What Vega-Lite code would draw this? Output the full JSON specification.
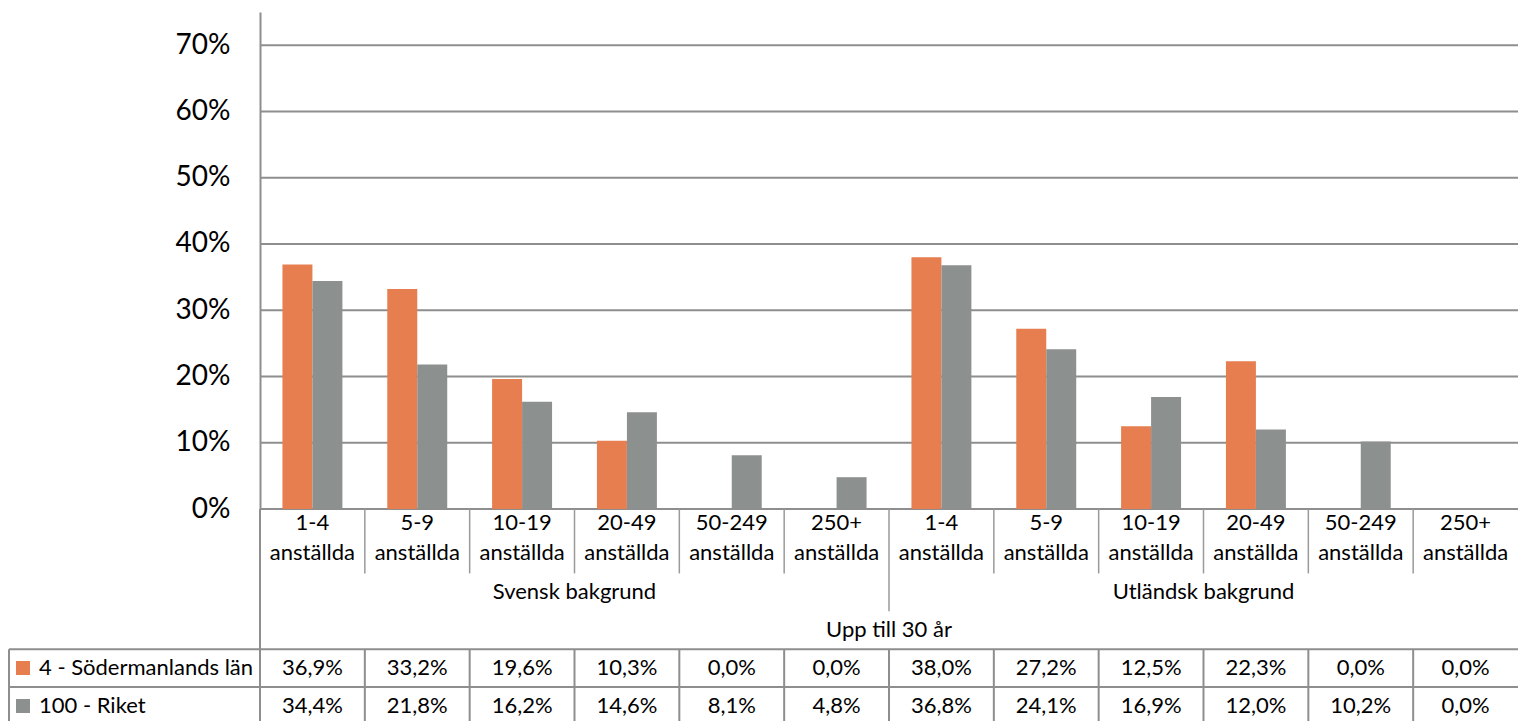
{
  "$schema": "https://vega.github.io/schema/vega-lite/v6.json",
  "width": 1509,
  "height": 709,
  "autosize": {"type": "none"},
  "padding": {"left": 9, "top": 12, "right": 3, "bottom": 0},
  "background": "white",
  "config": {
    "font": "Lato",
    "view": {"stroke": null},
    "locale": {"number": {"decimal": ",", "thousands": "\u00a0", "grouping": [3], "currency": ["", " kr"]}},
    "text": {"font": "Lato", "fontSize": 22, "color": "#000000"}
  },
  "data": {"values": [
    {"key": "S1", "grp": "Svensk bakgrund", "age": "Upp till 30 år", "label": "1-4\nanställda", "series": "4 - Södermanlands län", "value": 0.369},
    {"key": "S1", "grp": "Svensk bakgrund", "age": "Upp till 30 år", "label": "1-4\nanställda", "series": "100 - Riket", "value": 0.344},
    {"key": "S2", "grp": "Svensk bakgrund", "age": "Upp till 30 år", "label": "5-9\nanställda", "series": "4 - Södermanlands län", "value": 0.332},
    {"key": "S2", "grp": "Svensk bakgrund", "age": "Upp till 30 år", "label": "5-9\nanställda", "series": "100 - Riket", "value": 0.218},
    {"key": "S3", "grp": "Svensk bakgrund", "age": "Upp till 30 år", "label": "10-19\nanställda", "series": "4 - Södermanlands län", "value": 0.196},
    {"key": "S3", "grp": "Svensk bakgrund", "age": "Upp till 30 år", "label": "10-19\nanställda", "series": "100 - Riket", "value": 0.162},
    {"key": "S4", "grp": "Svensk bakgrund", "age": "Upp till 30 år", "label": "20-49\nanställda", "series": "4 - Södermanlands län", "value": 0.103},
    {"key": "S4", "grp": "Svensk bakgrund", "age": "Upp till 30 år", "label": "20-49\nanställda", "series": "100 - Riket", "value": 0.146},
    {"key": "S5", "grp": "Svensk bakgrund", "age": "Upp till 30 år", "label": "50-249\nanställda", "series": "4 - Södermanlands län", "value": 0.0},
    {"key": "S5", "grp": "Svensk bakgrund", "age": "Upp till 30 år", "label": "50-249\nanställda", "series": "100 - Riket", "value": 0.081},
    {"key": "S6", "grp": "Svensk bakgrund", "age": "Upp till 30 år", "label": "250+\nanställda", "series": "4 - Södermanlands län", "value": 0.0},
    {"key": "S6", "grp": "Svensk bakgrund", "age": "Upp till 30 år", "label": "250+\nanställda", "series": "100 - Riket", "value": 0.048},
    {"key": "U1", "grp": "Utländsk bakgrund", "age": "Upp till 30 år", "label": "1-4\nanställda", "series": "4 - Södermanlands län", "value": 0.380},
    {"key": "U1", "grp": "Utländsk bakgrund", "age": "Upp till 30 år", "label": "1-4\nanställda", "series": "100 - Riket", "value": 0.368},
    {"key": "U2", "grp": "Utländsk bakgrund", "age": "Upp till 30 år", "label": "5-9\nanställda", "series": "4 - Södermanlands län", "value": 0.272},
    {"key": "U2", "grp": "Utländsk bakgrund", "age": "Upp till 30 år", "label": "5-9\nanställda", "series": "100 - Riket", "value": 0.241},
    {"key": "U3", "grp": "Utländsk bakgrund", "age": "Upp till 30 år", "label": "10-19\nanställda", "series": "4 - Södermanlands län", "value": 0.125},
    {"key": "U3", "grp": "Utländsk bakgrund", "age": "Upp till 30 år", "label": "10-19\nanställda", "series": "100 - Riket", "value": 0.169},
    {"key": "U4", "grp": "Utländsk bakgrund", "age": "Upp till 30 år", "label": "20-49\nanställda", "series": "4 - Södermanlands län", "value": 0.223},
    {"key": "U4", "grp": "Utländsk bakgrund", "age": "Upp till 30 år", "label": "20-49\nanställda", "series": "100 - Riket", "value": 0.120},
    {"key": "U5", "grp": "Utländsk bakgrund", "age": "Upp till 30 år", "label": "50-249\nanställda", "series": "4 - Södermanlands län", "value": 0.0},
    {"key": "U5", "grp": "Utländsk bakgrund", "age": "Upp till 30 år", "label": "50-249\nanställda", "series": "100 - Riket", "value": 0.102},
    {"key": "U6", "grp": "Utländsk bakgrund", "age": "Upp till 30 år", "label": "250+\nanställda", "series": "4 - Södermanlands län", "value": 0.0},
    {"key": "U6", "grp": "Utländsk bakgrund", "age": "Upp till 30 år", "label": "250+\nanställda", "series": "100 - Riket", "value": 0.0}
  ]},
  "resolve": {"scale": {"x": "independent", "y": "independent"}},
  "layer": [
    {
      "data": {"values": [{"t": 0}, {"t": 0.1}, {"t": 0.2}, {"t": 0.3}, {"t": 0.4}, {"t": 0.5}, {"t": 0.6}, {"t": 0.7}]},
      "mark": {"type": "rule", "stroke": "#8E8E8E", "strokeWidth": 2},
      "encoding": {
        "y": {"field": "t", "type": "quantitative", "axis": null, "scale": {"domain": [0, 0.75], "range": [497, 0], "nice": false, "zero": false}},
        "x": {"datum": 0, "type": "quantitative", "axis": null, "scale": {"domain": [0, 12], "range": [251, 1509], "nice": false, "zero": false}},
        "x2": {"datum": 12}
      }
    },
    {
      "mark": {"type": "bar"},
      "encoding": {
        "x": {"field": "key", "type": "nominal", "axis": null, "scale": {"domain": ["S1","S2","S3","S4","S5","S6","U1","U2","U3","U4","U5","U6"], "range": [251, 1509], "paddingInner": 0.428, "paddingOuter": 0.214}},
        "xOffset": {"field": "series", "type": "nominal", "scale": {"domain": ["4 - Södermanlands län", "100 - Riket"], "paddingInner": 0, "paddingOuter": 0}},
        "y": {"field": "value", "type": "quantitative", "scale": {"domain": [0, 0.75], "range": [497, 0], "nice": false, "zero": false},
          "axis": {"values": [0, 0.1, 0.2, 0.3, 0.4, 0.5, 0.6, 0.7], "format": ".0%", "offset": -251, "grid": false, "ticks": false, "tickSize": 0, "labelPadding": 30, "labelFontSize": 28, "labelFont": "Lato", "labelColor": "#000000", "domainColor": "#8E8E8E", "domainWidth": 2, "title": null}},
        "color": {"field": "series", "type": "nominal",
          "scale": {"domain": ["4 - Södermanlands län", "100 - Riket"], "range": ["#E67E4F", "#8C918F"]},
          "legend": {"orient": "none", "legendX": 3, "legendY": 645, "title": null, "symbolType": "square", "symbolSize": 196, "symbolStrokeWidth": 0, "symbolOpacity": 1, "labelFontSize": 22, "labelFont": "Lato", "labelColor": "#000000", "labelOffset": 5, "rowPadding": 16, "padding": 0, "labelLimit": 300}}
      }
    },
    {
      "transform": [{"filter": "datum.series == '100 - Riket' && datum.key != 'S1' && datum.key != 'U1'"}],
      "mark": {"type": "rule", "stroke": "#9A9A9A", "strokeWidth": 1.5},
      "encoding": {
        "x": {"field": "key", "type": "nominal", "bandPosition": 0, "axis": null, "scale": {"domain": ["S1","S2","S3","S4","S5","S6","U1","U2","U3","U4","U5","U6"], "range": [251, 1509], "paddingInner": 0, "paddingOuter": 0}},
        "y": {"datum": 0, "type": "quantitative", "axis": null, "scale": {"domain": [0, 5.7], "range": [497, 713], "nice": false, "zero": false}},
        "y2": {"datum": 1.7}
      }
    },
    {
      "transform": [{"filter": "datum.series == '100 - Riket' && datum.key == 'U1'"}],
      "mark": {"type": "rule", "stroke": "#9A9A9A", "strokeWidth": 1.5},
      "encoding": {
        "x": {"field": "key", "type": "nominal", "bandPosition": 0, "axis": null, "scale": {"domain": ["S1","S2","S3","S4","S5","S6","U1","U2","U3","U4","U5","U6"], "range": [251, 1509], "paddingInner": 0, "paddingOuter": 0}},
        "y": {"datum": 0, "type": "quantitative", "axis": null, "scale": {"domain": [0, 5.7], "range": [497, 713], "nice": false, "zero": false}},
        "y2": {"datum": 2.7}
      }
    },
    {
      "transform": [{"filter": "datum.series == '100 - Riket' && datum.key == 'S1'"}],
      "mark": {"type": "rule", "stroke": "#8E8E8E", "strokeWidth": 2},
      "encoding": {
        "x": {"field": "key", "type": "nominal", "bandPosition": 0, "axis": null, "scale": {"domain": ["S1","S2","S3","S4","S5","S6","U1","U2","U3","U4","U5","U6"], "range": [251, 1509], "paddingInner": 0, "paddingOuter": 0}},
        "y": {"datum": 0, "type": "quantitative", "axis": null, "scale": {"domain": [0, 5.7], "range": [497, 713], "nice": false, "zero": false}},
        "y2": {"datum": 5.7}
      }
    },
    {
      "transform": [{"filter": "datum.series == '100 - Riket' && datum.key != 'S1'"}],
      "mark": {"type": "rule", "stroke": "#8E8E8E", "strokeWidth": 2},
      "encoding": {
        "x": {"field": "key", "type": "nominal", "bandPosition": 0, "axis": null, "scale": {"domain": ["S1","S2","S3","S4","S5","S6","U1","U2","U3","U4","U5","U6"], "range": [251, 1509], "paddingInner": 0, "paddingOuter": 0}},
        "y": {"datum": 3.7, "type": "quantitative", "axis": null, "scale": {"domain": [0, 5.7], "range": [497, 713], "nice": false, "zero": false}},
        "y2": {"datum": 5.7}
      }
    },
    {
      "transform": [{"filter": "datum.series == '100 - Riket' && datum.key == 'S1'"}],
      "mark": {"type": "rule", "stroke": "#8E8E8E", "strokeWidth": 2},
      "encoding": {
        "x": {"datum": -2.3944, "type": "quantitative", "axis": null, "scale": {"domain": [0, 12], "range": [251, 1509], "nice": false, "zero": false}},
        "y": {"datum": 3.7, "type": "quantitative", "axis": null, "scale": {"domain": [0, 5.7], "range": [497, 713], "nice": false, "zero": false}},
        "y2": {"datum": 5.7}
      }
    },
    {
      "transform": [{"filter": "datum.series == '100 - Riket' && datum.key == 'S1'"}],
      "mark": {"type": "rule", "stroke": "#8E8E8E", "strokeWidth": 2},
      "encoding": {
        "y": {"datum": 3.7, "type": "quantitative", "axis": null, "scale": {"domain": [0, 5.7], "range": [497, 713], "nice": false, "zero": false}}
      }
    },
    {
      "transform": [{"filter": "datum.series == '100 - Riket' && datum.key == 'S1'"}],
      "mark": {"type": "rule", "stroke": "#8E8E8E", "strokeWidth": 2},
      "encoding": {
        "y": {"datum": 4.7, "type": "quantitative", "axis": null, "scale": {"domain": [0, 5.7], "range": [497, 713], "nice": false, "zero": false}}
      }
    },
    {
      "transform": [{"filter": "datum.series == '100 - Riket'"}],
      "mark": {"type": "text", "lineBreak": "\n", "lineHeight": 29.5, "baseline": "middle", "align": "center"},
      "encoding": {
        "x": {"field": "key", "type": "nominal", "axis": null, "scale": {"domain": ["S1","S2","S3","S4","S5","S6","U1","U2","U3","U4","U5","U6"], "range": [251, 1509], "paddingInner": 0, "paddingOuter": 0}},
        "y": {"datum": 0.375, "type": "quantitative", "axis": null, "scale": {"domain": [0, 5.7], "range": [497, 713], "nice": false, "zero": false}},
        "text": {"field": "label"}
      }
    },
    {
      "transform": [{"filter": "datum.series == '100 - Riket' && datum.key == 'S1'"}],
      "mark": {"type": "text", "baseline": "middle", "align": "center"},
      "encoding": {
        "x": {"datum": 3, "type": "quantitative", "axis": null, "scale": {"domain": [0, 12], "range": [251, 1509], "nice": false, "zero": false}},
        "y": {"datum": 2.19, "type": "quantitative", "axis": null, "scale": {"domain": [0, 5.7], "range": [497, 713], "nice": false, "zero": false}},
        "text": {"field": "grp"}
      }
    },
    {
      "transform": [{"filter": "datum.series == '100 - Riket' && datum.key == 'U1'"}],
      "mark": {"type": "text", "baseline": "middle", "align": "center"},
      "encoding": {
        "x": {"datum": 9, "type": "quantitative", "axis": null, "scale": {"domain": [0, 12], "range": [251, 1509], "nice": false, "zero": false}},
        "y": {"datum": 2.19, "type": "quantitative", "axis": null, "scale": {"domain": [0, 5.7], "range": [497, 713], "nice": false, "zero": false}},
        "text": {"field": "grp"}
      }
    },
    {
      "transform": [{"filter": "datum.series == '100 - Riket' && datum.key == 'S1'"}],
      "mark": {"type": "text", "baseline": "middle", "align": "center"},
      "encoding": {
        "x": {"datum": 6, "type": "quantitative", "axis": null, "scale": {"domain": [0, 12], "range": [251, 1509], "nice": false, "zero": false}},
        "y": {"datum": 3.19, "type": "quantitative", "axis": null, "scale": {"domain": [0, 5.7], "range": [497, 713], "nice": false, "zero": false}},
        "text": {"field": "age"}
      }
    },
    {
      "transform": [{"filter": "datum.series == '4 - Södermanlands län'"}],
      "mark": {"type": "text", "baseline": "middle", "align": "center"},
      "encoding": {
        "x": {"field": "key", "type": "nominal", "axis": null, "scale": {"domain": ["S1","S2","S3","S4","S5","S6","U1","U2","U3","U4","U5","U6"], "range": [251, 1509], "paddingInner": 0, "paddingOuter": 0}},
        "y": {"datum": 4.2, "type": "quantitative", "axis": null, "scale": {"domain": [0, 5.7], "range": [497, 713], "nice": false, "zero": false}},
        "text": {"field": "value", "type": "quantitative", "format": ".1%"}
      }
    },
    {
      "transform": [{"filter": "datum.series == '100 - Riket'"}],
      "mark": {"type": "text", "baseline": "middle", "align": "center"},
      "encoding": {
        "x": {"field": "key", "type": "nominal", "axis": null, "scale": {"domain": ["S1","S2","S3","S4","S5","S6","U1","U2","U3","U4","U5","U6"], "range": [251, 1509], "paddingInner": 0, "paddingOuter": 0}},
        "y": {"datum": 5.2, "type": "quantitative", "axis": null, "scale": {"domain": [0, 5.7], "range": [497, 713], "nice": false, "zero": false}},
        "text": {"field": "value", "type": "quantitative", "format": ".1%"}
      }
    }
  ]
}
